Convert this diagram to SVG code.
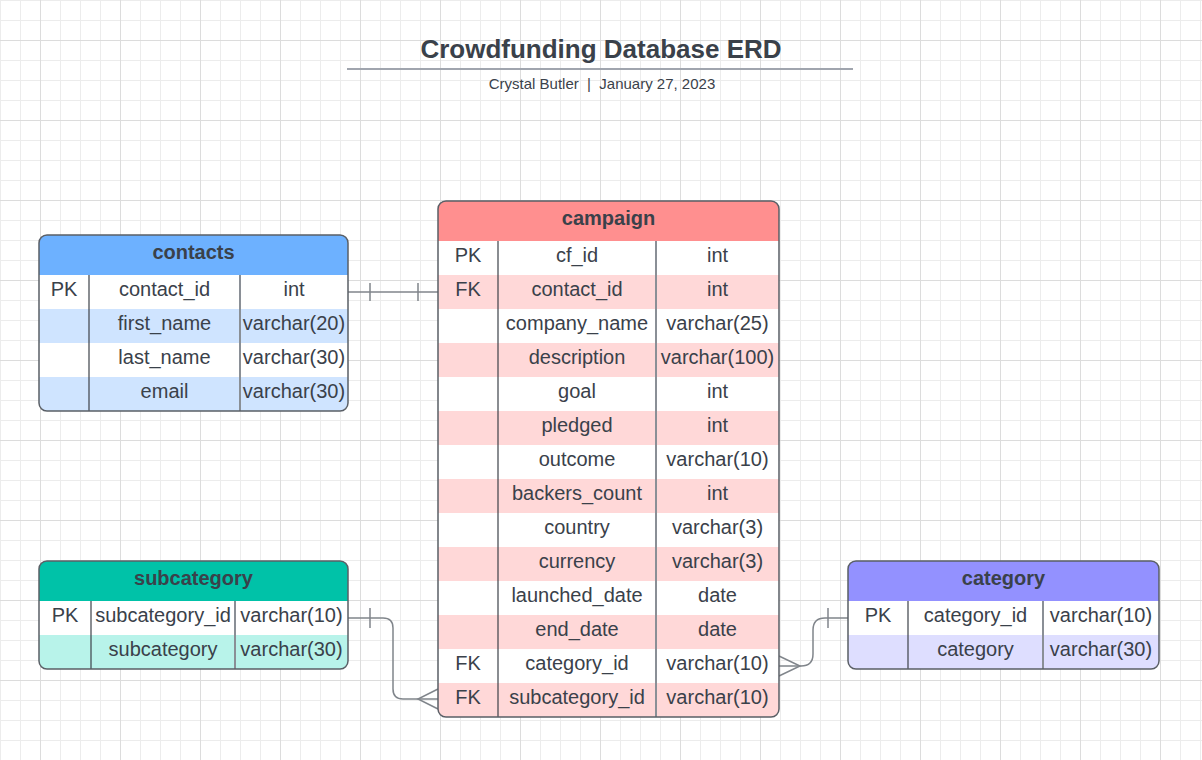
<svg xmlns="http://www.w3.org/2000/svg" width="1202" height="760" viewBox="0 0 1202 760">
<style>
.t{font-family:"Liberation Sans",Arial,sans-serif;font-size:20px;fill:#3a414a;text-anchor:middle}
.h{font-weight:bold}
.title{font-family:"Liberation Sans",Arial,sans-serif;font-size:26px;font-weight:bold;fill:#3a414a;text-anchor:middle}
.sub{font-family:"Liberation Sans",Arial,sans-serif;font-size:15px;fill:#3a414a;text-anchor:middle;white-space:pre}
.frame{fill:none;stroke:#5a5f66;stroke-width:1.5}
.d1{stroke:#3c4148;stroke-width:1.2}
.d2{stroke:#8a8f96;stroke-width:2}
.conn{fill:none;stroke:#80858b;stroke-width:1.5}
</style>
<defs>
<pattern id="grid" patternUnits="userSpaceOnUse" x="0" y="0" width="80" height="80">
<rect x="0" y="0" width="80" height="80" fill="#ffffff"/>
<rect x="0" y="0" width="1" height="80" fill="#ececec"/>
<rect x="20" y="0" width="1" height="80" fill="#ececec"/>
<rect x="60" y="0" width="1" height="80" fill="#ececec"/>
<rect x="0" y="0" width="80" height="1" fill="#ececec"/>
<rect x="0" y="20" width="80" height="1" fill="#ececec"/>
<rect x="0" y="60" width="80" height="1" fill="#ececec"/>
<rect x="40" y="0" width="1" height="80" fill="#dcdcdc"/>
<rect x="0" y="40" width="80" height="1" fill="#dcdcdc"/>
</pattern>
<clipPath id="cpContacts"><rect x="39" y="235" width="309" height="176" rx="8"/></clipPath>
<clipPath id="cpCampaign"><rect x="438" y="201" width="341" height="516" rx="8"/></clipPath>
<clipPath id="cpSub"><rect x="39" y="561" width="309" height="108" rx="8"/></clipPath>
<clipPath id="cpCat"><rect x="848" y="561" width="311" height="108" rx="8"/></clipPath>
</defs>
<rect x="0" y="0" width="1202" height="760" fill="url(#grid)"/>

<g id="title">
<text class="title" x="601" y="58">Crowdfunding Database ERD</text>
<line x1="347" y1="69" x2="853" y2="69" stroke="#a0a5ae" stroke-width="2"/>
<text class="sub" x="602" y="89">Crystal Butler  |  January 27, 2023</text>
</g>

<g id="connectors">
<path class="conn" d="M348,292 H438"/>
<path class="conn" d="M370,283 V301 M418,283 V301"/>
<path class="conn" d="M348,618 H383 Q393,618 393,628 V689 Q393,699 403,699 H438"/>
<path class="conn" d="M370,608 V628"/>
<path class="conn" d="M438,689 L418,699 L438,709"/>
<path class="conn" d="M848,618 H825 Q813,618 813,630 V654 Q813,666 801,666 H779"/>
<path class="conn" d="M828,608 V628"/>
<path class="conn" d="M779,656 L800,666 L779,676"/>
</g>

<g id="contacts">
<g clip-path="url(#cpContacts)">
<rect x="39" y="235" width="309" height="176" fill="#ffffff"/>
<rect x="39" y="235" width="309" height="40" fill="#6db1ff"/>
<rect x="39" y="309" width="309" height="34" fill="#cfe4ff"/>
<rect x="39" y="377" width="309" height="34" fill="#cfe4ff"/>
</g>
<line class="d1" x1="89" y1="275" x2="89" y2="411"/>
<line class="d2" x1="240" y1="275" x2="240" y2="411"/>
<rect class="frame" x="39" y="235" width="309" height="176" rx="8"/>
<text class="t h" x="193.5" y="259">contacts</text>
<text class="t" x="64" y="296">PK</text><text class="t" x="164.5" y="296">contact_id</text><text class="t" x="294" y="296">int</text>
<text class="t" x="164.5" y="330">first_name</text><text class="t" x="294" y="330">varchar(20)</text>
<text class="t" x="164.5" y="364">last_name</text><text class="t" x="294" y="364">varchar(30)</text>
<text class="t" x="164.5" y="398">email</text><text class="t" x="294" y="398">varchar(30)</text>
</g>

<g id="campaign">
<g clip-path="url(#cpCampaign)">
<rect x="438" y="201" width="341" height="516" fill="#ffffff"/>
<rect x="438" y="201" width="341" height="40" fill="#ff8f8f"/>
<rect x="438" y="275" width="341" height="34" fill="#ffd8d8"/>
<rect x="438" y="343" width="341" height="34" fill="#ffd8d8"/>
<rect x="438" y="411" width="341" height="34" fill="#ffd8d8"/>
<rect x="438" y="479" width="341" height="34" fill="#ffd8d8"/>
<rect x="438" y="547" width="341" height="34" fill="#ffd8d8"/>
<rect x="438" y="615" width="341" height="34" fill="#ffd8d8"/>
<rect x="438" y="683" width="341" height="34" fill="#ffd8d8"/>
</g>
<line class="d1" x1="498" y1="241" x2="498" y2="717"/>
<line class="d2" x1="656" y1="241" x2="656" y2="717"/>
<rect class="frame" x="438" y="201" width="341" height="516" rx="8"/>
<text class="t h" x="608.5" y="225">campaign</text>
<text class="t" x="468" y="262">PK</text><text class="t" x="577" y="262">cf_id</text><text class="t" x="717.5" y="262">int</text>
<text class="t" x="468" y="296">FK</text><text class="t" x="577" y="296">contact_id</text><text class="t" x="717.5" y="296">int</text>
<text class="t" x="577" y="330">company_name</text><text class="t" x="717.5" y="330">varchar(25)</text>
<text class="t" x="577" y="364">description</text><text class="t" x="717.5" y="364">varchar(100)</text>
<text class="t" x="577" y="398">goal</text><text class="t" x="717.5" y="398">int</text>
<text class="t" x="577" y="432">pledged</text><text class="t" x="717.5" y="432">int</text>
<text class="t" x="577" y="466">outcome</text><text class="t" x="717.5" y="466">varchar(10)</text>
<text class="t" x="577" y="500">backers_count</text><text class="t" x="717.5" y="500">int</text>
<text class="t" x="577" y="534">country</text><text class="t" x="717.5" y="534">varchar(3)</text>
<text class="t" x="577" y="568">currency</text><text class="t" x="717.5" y="568">varchar(3)</text>
<text class="t" x="577" y="602">launched_date</text><text class="t" x="717.5" y="602">date</text>
<text class="t" x="577" y="636">end_date</text><text class="t" x="717.5" y="636">date</text>
<text class="t" x="468" y="670">FK</text><text class="t" x="577" y="670">category_id</text><text class="t" x="717.5" y="670">varchar(10)</text>
<text class="t" x="468" y="704">FK</text><text class="t" x="577" y="704">subcategory_id</text><text class="t" x="717.5" y="704">varchar(10)</text>
</g>

<g id="subcategory">
<g clip-path="url(#cpSub)">
<rect x="39" y="561" width="309" height="108" fill="#ffffff"/>
<rect x="39" y="561" width="309" height="40" fill="#00c2a8"/>
<rect x="39" y="635" width="309" height="34" fill="#b8f3ea"/>
</g>
<line class="d1" x1="91" y1="601" x2="91" y2="669"/>
<line class="d2" x1="235" y1="601" x2="235" y2="669"/>
<rect class="frame" x="39" y="561" width="309" height="108" rx="8"/>
<text class="t h" x="193.5" y="585">subcategory</text>
<text class="t" x="65" y="622">PK</text><text class="t" x="163" y="622">subcategory_id</text><text class="t" x="291.5" y="622">varchar(10)</text>
<text class="t" x="163" y="656">subcategory</text><text class="t" x="291.5" y="656">varchar(30)</text>
</g>

<g id="category">
<g clip-path="url(#cpCat)">
<rect x="848" y="561" width="311" height="108" fill="#ffffff"/>
<rect x="848" y="561" width="311" height="40" fill="#9391ff"/>
<rect x="848" y="635" width="311" height="34" fill="#dedeff"/>
</g>
<line class="d1" x1="908" y1="601" x2="908" y2="669"/>
<line class="d2" x1="1043" y1="601" x2="1043" y2="669"/>
<rect class="frame" x="848" y="561" width="311" height="108" rx="8"/>
<text class="t h" x="1003.5" y="585">category</text>
<text class="t" x="878" y="622">PK</text><text class="t" x="975.5" y="622">category_id</text><text class="t" x="1101" y="622">varchar(10)</text>
<text class="t" x="975.5" y="656">category</text><text class="t" x="1101" y="656">varchar(30)</text>
</g>
</svg>
